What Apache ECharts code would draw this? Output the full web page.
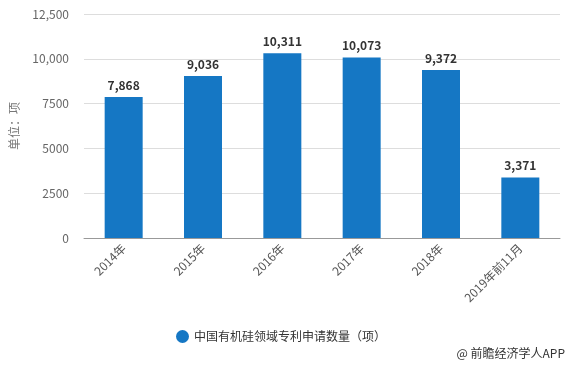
<!DOCTYPE html>
<html><head><meta charset="utf-8">
<script src="https://cdn.jsdelivr.net/npm/echarts@6/dist/echarts.min.js"></script>
<style>html,body{margin:0;padding:0;background:#fff}#c{width:571px;height:368px}</style>
</head><body><div id="c"></div>
<script>
const categories = ['2014年','2015年','2016年','2017年','2018年','2019年前11月'];
const values = [7868, 9036, 10311, 10073, 9372, 3371];
const yTicks = {0:'0',2500:'2500',5000:'5000',7500:'7500',10000:'10,000',12500:'12,500'};
const seriesName = '中国有机硅领域专利申请数量（项）';
const chart = echarts.init(document.getElementById('c'));
chart.setOption({
  animation:false,
  textStyle:{fontFamily:'"Noto Sans CJK SC", "Noto Sans", sans-serif'},
  grid:{left:82,right:11,top:14,bottom:130},
  legend:{data:[seriesName],icon:'circle',itemWidth:13,itemHeight:13,itemGap:8,left:171,top:325,
    textStyle:{fontSize:12,color:'#333'}},
  graphic:[{type:'text',right:6,top:347,style:{text:'@ 前瞻经济学人APP',fontSize:12,fill:'#333',fontFamily:'"Noto Sans CJK SC", sans-serif'}}],
  xAxis:{type:'category',data:categories,
    axisLine:{lineStyle:{color:'#999'}},
    axisTick:{alignWithLabel:true,lineStyle:{color:'#999'}},
    axisLabel:{rotate:45,color:'#555',fontSize:12,margin:8}},
  yAxis:{type:'value',min:0,max:12500,interval:2500,
    name:'单位：项',nameLocation:'middle',nameGap:64,nameRotate:90,
    nameTextStyle:{color:'#777',fontSize:12},
    axisLine:{show:false},axisTick:{show:false},
    axisLabel:{color:'#666',fontSize:12,margin:15,formatter:v=>yTicks[v]},
    splitLine:{lineStyle:{color:'#ddd'}}},
  series:[{name:seriesName,type:'bar',data:values,barWidth:38,
    itemStyle:{color:'#1577c4'},
    label:{show:true,position:'top',distance:6,color:'#333',fontWeight:'bold',fontSize:12,
      formatter:p=>p.value.toLocaleString('en-US')}}]
});
</script></body></html>
